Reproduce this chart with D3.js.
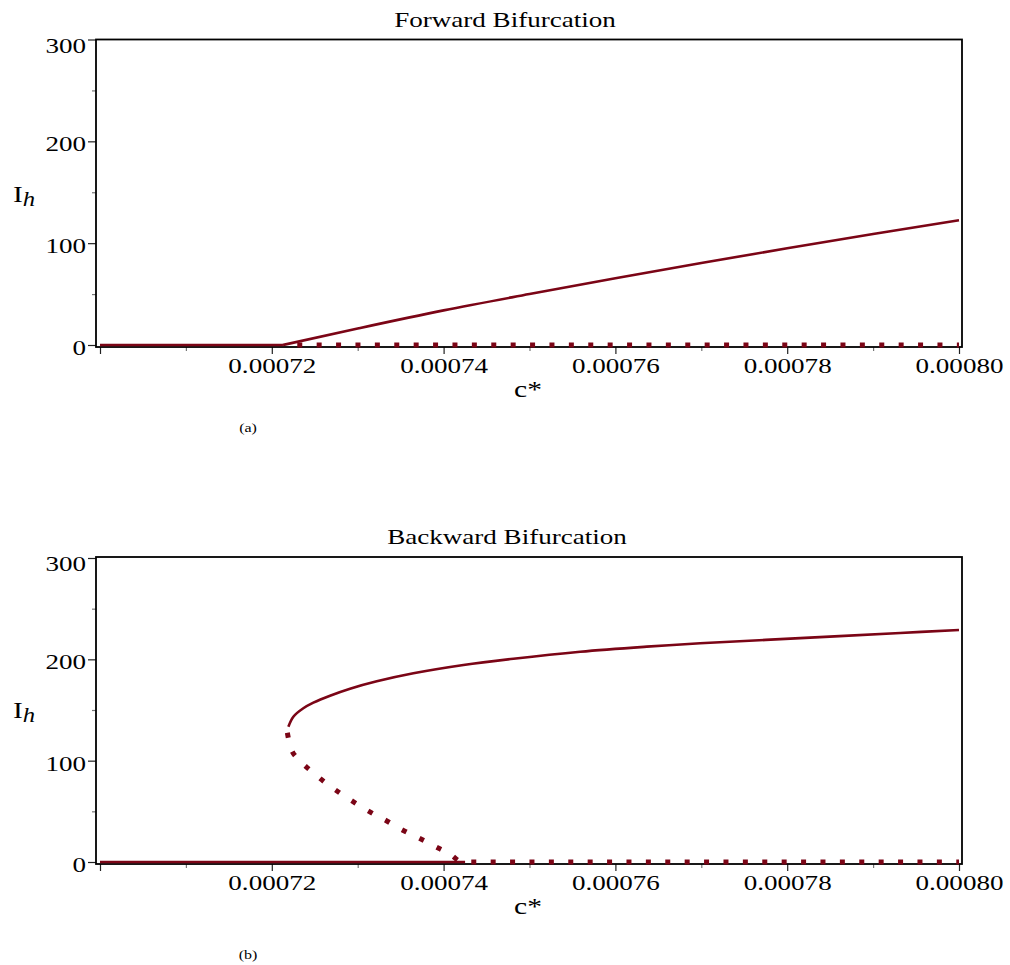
<!DOCTYPE html>
<html><head><meta charset="utf-8">
<script src="https://cdn.jsdelivr.net/npm/d3@7"></script>
<style>
body{margin:0;background:#fff}
svg{display:block}
text{font-family:"Liberation Serif","Times New Roman",serif;fill:#000}
</style>
</head><body>
<svg id="chart" width="1010" height="965"></svg>
<script>
// ---- axis ticks ----
const xTicks = [0.0007, 0.00072, 0.00074, 0.00076, 0.00078, 0.0008];
const xTickLabels = ["", "0.00072", "0.00074", "0.00076", "0.00078", "0.00080"];
const xMinorTicks = [0.00071, 0.00073, 0.00075, 0.00077, 0.00079];
const yTicks = [0, 100, 200, 300];
const yTickLabels = ["0", "100", "200", "300"];
const yMinorTicks = [50, 150, 250];

// ---- (a) forward bifurcation ----
const fwdZeroStableC = [0.0007, 0.0007213];
const fwdZeroStableI = [0, 0];
const fwdRisingC = [0.0007213, 0.00073, 0.00074, 0.00075, 0.00076, 0.00077, 0.00078, 0.00079, 0.0008];
const fwdRisingI = [0, 16.2, 34, 50, 65.5, 80.5, 95, 109, 122.5];
const fwdUnstableC = [0.0007213, 0.0008];
const fwdUnstableI = [0, 0];

// ---- (b) backward bifurcation ----
const bwdZeroStableC = [0.0007, 0.0007425];
const bwdZeroStableI = [0, 0];
const bwdUpperC = [0.00072193, 0.00072251, 0.00072367, 0.00072484, 0.00072678, 0.00072911, 0.00073222, 0.00073648, 0.00074231, 0.00074813, 0.0007559, 0.00076366, 0.00076987, 0.00078151, 0.00079316, 0.0008];
const bwdUpperI = [133.5, 143.4, 151.7, 157.2, 164.1, 171.0, 178.3, 186.2, 194.4, 200.6, 207.5, 212.5, 215.8, 220.9, 226.0, 229.0];
const bwdLowerC = [0.00072181, 0.00072219, 0.00072329, 0.00072477, 0.00072632, 0.00072798, 0.00072973, 0.00073152, 0.00073339, 0.0007352, 0.00073711, 0.00073898, 0.00074084, 0.00074215, 0.0008];
const bwdLowerI = [127.6, 112.8, 100.0, 88.5, 77.7, 67.8, 58.2, 49.0, 40.5, 31.6, 23.7, 15.5, 7.2, 0, 0];

const COLOR = "#7b0516";
const SX = 1.23; // horizontal stretch of the text in the reference
const svg = d3.select("#chart");

function zip(c, v) { return c.map((d, i) => [d, v[i]]); }

function stretchedText(g, x, y, str, size, anchor) {
  return g.append("text")
    .attr("transform", `translate(${x},${y}) scale(${SX},1)`)
    .attr("text-anchor", anchor || "middle")
    .attr("font-size", size)
    .text(str);
}

function panel(cfg) {
  const g = svg.append("g");
  const x = d3.scaleLinear().domain([0.0007, 0.0008]).range([100, 959]);
  const y = d3.scaleLinear().domain([0, 300]).range([cfg.yBottom, cfg.yTop]);

  // x axis major
  const xa = g.append("g").attr("transform", `translate(0,${cfg.axisY})`)
    .call(d3.axisBottom(x).tickValues(xTicks).tickSize(7).tickFormat((d, i) => xTickLabels[i]));
  xa.select(".domain").remove();
  xa.selectAll("line").attr("stroke", "#222").attr("stroke-width", 1.2);
  xa.selectAll("text").attr("dy", null).attr("y", 26)
    .attr("font-size", 22).attr("font-family", "Liberation Serif").attr("fill", "#000")
    .attr("transform", `scale(${SX},1)`);
  // x axis minor
  const xm = g.append("g").attr("transform", `translate(0,${cfg.axisY})`)
    .call(d3.axisBottom(x).tickValues(xMinorTicks).tickSize(4).tickFormat(""));
  xm.select(".domain").remove();
  xm.selectAll("line").attr("stroke", "#777").attr("stroke-width", 1.2);

  // y axis major
  const ya = g.append("g").attr("transform", `translate(96,0)`)
    .call(d3.axisLeft(y).tickValues(yTicks).tickSize(8).tickFormat((d, i) => yTickLabels[i]));
  ya.select(".domain").remove();
  ya.selectAll("line").attr("stroke", "#222").attr("stroke-width", 1.2);
  ya.selectAll("text").attr("dy", null).attr("x", -10 / SX)
    .attr("y", d => d === 300 ? 12.5 : 9.5)
    .attr("font-size", 22).attr("font-family", "Liberation Serif").attr("fill", "#000")
    .attr("transform", `scale(${SX},1)`);
  // y axis minor
  const ym = g.append("g").attr("transform", `translate(96,0)`)
    .call(d3.axisLeft(y).tickValues(yMinorTicks).tickSize(4).tickFormat(""));
  ym.select(".domain").remove();
  ym.selectAll("line").attr("stroke", "#777").attr("stroke-width", 1.2);

  // frame
  g.append("rect").attr("x", 96).attr("y", cfg.frameTop)
    .attr("width", 962 - 96).attr("height", cfg.axisY - cfg.frameTop)
    .attr("fill", "none").attr("stroke", "#000").attr("stroke-width", 1.8);

  // curves
  cfg.solid.forEach(s => {
    g.append("path").datum(s.data)
      .attr("d", d3.line().x(d => x(d[0])).y(d => y(d[1])).curve(s.curve || d3.curveLinear))
      .attr("fill", "none").attr("stroke", COLOR).attr("stroke-width", 2.6)
      .attr("stroke-linejoin", "round");
  });
  cfg.dotted.forEach(s => {
    g.append("path").datum(s.data)
      .attr("d", d3.line().x(d => x(d[0])).y(d => y(d[1])).curve(s.curve || d3.curveLinear))
      .attr("fill", "none").attr("stroke", COLOR).attr("stroke-width", 5)
      .attr("stroke-dasharray", "5,14.4").attr("stroke-dashoffset", s.offset || 0);
  });

  // labels
  stretchedText(g, cfg.titleX, cfg.titleY, cfg.title, 22, "middle");
  stretchedText(g, 528, cfg.axisY + 50, "c*", 24, "middle");
  const ih = g.append("text")
    .attr("transform", `translate(13,${cfg.ihY}) scale(${SX},1)`)
    .attr("font-size", 24);
  ih.append("tspan").text("I");
  ih.append("tspan").attr("font-style", "italic").attr("font-size", 20).attr("dy", 4).text("h");
  stretchedText(g, 248, cfg.subY, cfg.sub, 13, "middle");
}

panel({
  yTop: 39.5, yBottom: 345, frameTop: 39.5, axisY: 347,
  title: "Forward Bifurcation", titleX: 505, titleY: 26.5,
  ihY: 202, sub: "(a)", subY: 432,
  solid: [
    { data: zip(fwdZeroStableC, fwdZeroStableI) },
    { data: zip(fwdRisingC, fwdRisingI), curve: d3.curveMonotoneX }
  ],
  dotted: [{ data: zip(fwdUnstableC, fwdUnstableI), offset: 5.1 }]
});

panel({
  yTop: 558, yBottom: 862, frameTop: 557, axisY: 864,
  title: "Backward Bifurcation", titleX: 507, titleY: 543.5,
  ihY: 718, sub: "(b)", subY: 959,
  solid: [
    { data: zip(bwdZeroStableC, bwdZeroStableI) },
    { data: zip(bwdUpperC, bwdUpperI), curve: d3.curveCatmullRom.alpha(0.5) }
  ],
  dotted: [{ data: zip(bwdLowerC, bwdLowerI), curve: d3.curveMonotoneX, offset: 0 }]
});
</script>
</body></html>
